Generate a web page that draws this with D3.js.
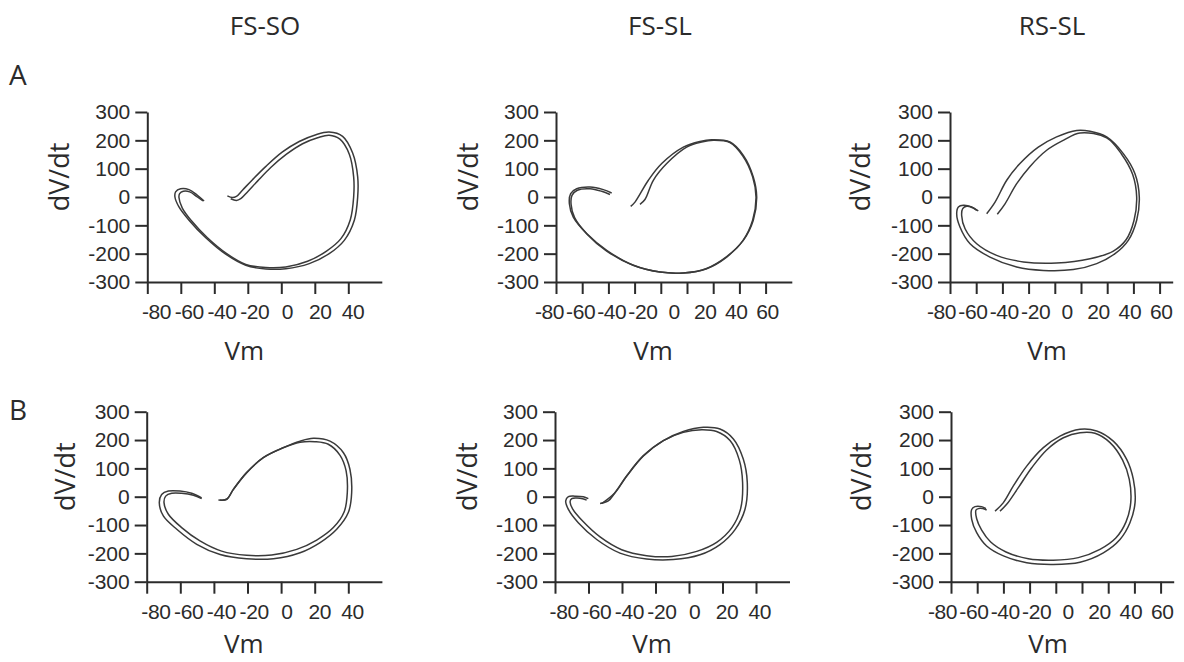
<!DOCTYPE html>
<html><head><meta charset="utf-8">
<script src="https://cdn.jsdelivr.net/npm/d3@7"></script>
<style>
html,body{margin:0;padding:0;background:#fff;}
svg{display:block;}
</style></head>
<body>
<svg id="chart" width="1184" height="662"></svg>
<script>
// ---------------- DATA ----------------
const columnTitles = ["FS-SO", "FS-SL", "RS-SL"];
const rowLetters = ["A", "B"];
const dvdtTicks = [-300, -200, -100, 0, 100, 200, 300];
const vmTicksShort = [-80, -60, -40, -20, 0, 20, 40];
const vmTicksLong = [-80, -60, -40, -20, 0, 20, 40, 60, 80];
const vmLabelsShort = [-80, -60, -40, -20, 0, 20, 40];
const vmLabelsLong = [-80, -60, -40, -20, 0, 20, 40, 60];

// Row A, FS-SO: [Vm, dV/dt]
const aFsSo1 = [[-32.2,4],[-29.2,-2],[-26.8,2],[-23.2,24],[-17.2,61],[-9.2,108],[0.7,159],[10.7,196],[20.7,220],[28.6,229],[36.6,214],[42.6,155],[45.6,71],[45.6,0],[43.6,-82],[37.6,-153],[28.6,-200],[16.7,-235],[2.7,-253],[-9.2,-254],[-21.2,-241],[-33.2,-202],[-45.1,-144],[-55.1,-82],[-61.1,-35],[-63.5,0],[-63.1,18],[-60.1,29],[-55.1,26],[-50.1,6],[-46.1,-14]];
const aFsSo2 = [[-30.2,-6],[-26.8,-12],[-24.2,-6],[-20.2,18],[-14.2,56],[-6.3,104],[3.1,151],[12.7,188],[21.7,209],[28.6,218],[35,204],[40.6,151],[43.2,71],[43.2,0],[41.2,-80],[35.6,-147],[27,-191],[15.7,-227],[2.7,-247],[-9.2,-249],[-21.2,-238],[-32.6,-200],[-44.1,-144],[-53.5,-85],[-59.1,-39],[-61.1,-2],[-60.7,12],[-58.5,20],[-54.7,18],[-50.1,0],[-46.7,-14]];
// Row A, FS-SL
const aFsSl1 = [[-23,-33],[-19.7,-18],[-9.5,59],[0.7,118],[17.2,176],[29.9,196],[38.8,202],[52.8,194],[63,147],[70.6,71],[73.2,0],[70.6,-82],[63,-153],[50.3,-212],[35,-253],[17.2,-268],[-0.6,-265],[-21,-241],[-41.3,-188],[-56.6,-129],[-66.8,-71],[-69.8,-24],[-68.8,12],[-64.2,29],[-54,35],[-43.9,26],[-37.5,14]];
const aFsSl2 = [[-15.9,-26],[-12.1,-9],[-5.7,59],[4.5,118],[19.7,176],[31.2,194],[40.1,200],[52.8,192],[62.5,145],[70.1,71],[72.7,0],[70.1,-82],[62.5,-155],[49.8,-212],[34.5,-253],[17.2,-268],[-0.6,-265],[-21,-241],[-41.3,-191],[-56.1,-132],[-65.8,-73],[-68.5,-26],[-67.8,6],[-63.7,24],[-54,29],[-45.1,20],[-38.8,9]];
// Row A, RS-SL
const aRsSl1 = [[-52,-59],[-45.6,-18],[-36.7,59],[-26.6,118],[-12.6,176],[1.4,212],[16.7,235],[26.9,232],[39.6,212],[52.3,153],[61.2,82],[64.5,0],[62.5,-82],[56.1,-153],[46,-200],[32,-235],[14.1,-256],[-8.8,-259],[-29.1,-247],[-49.5,-212],[-64.7,-165],[-72.4,-106],[-74.9,-59],[-73.6,-35],[-69.8,-29],[-63.5,-35],[-59.6,-47]];
const aRsSl2 = [[-43.9,-61],[-38,-24],[-29.1,47],[-18.9,108],[-6.2,165],[6.5,200],[19.2,226],[39.6,209],[51,151],[59.4,80],[62.5,0],[60.5,-82],[54.4,-151],[44.7,-191],[26.9,-218],[1.4,-233],[-24,-229],[-44.4,-206],[-59.6,-165],[-68.5,-112],[-71.1,-65],[-70.3,-41],[-67.3,-33],[-62.7,-38],[-58.4,-49]];
// Row B, FS-SO
const bFsSo1 = [[-37.3,-12],[-32.4,-9],[-28.4,26],[-20.5,85],[-10.6,138],[1.3,173],[11.3,196],[19.2,206],[29.1,196],[37.1,155],[41,96],[42,14],[40,-56],[33.1,-115],[23.2,-162],[11.3,-198],[-4.6,-219],[-20.5,-219],[-36.3,-204],[-50.2,-168],[-62.1,-115],[-70.1,-68],[-72.5,-21],[-71.1,8],[-67.1,20],[-60.2,20],[-53.2,12],[-47.3,-4]];
const bFsSo2 = [[-36.3,-12],[-32.4,-9],[-28.4,26],[-20.5,85],[-10.6,138],[1.3,173],[11.3,192],[20.2,194],[28.1,185],[35.1,146],[38.7,91],[39.4,14],[37.5,-54],[31.1,-109],[21.2,-153],[9.3,-186],[-5.6,-206],[-20.5,-207],[-35.4,-192],[-48.3,-156],[-59.2,-109],[-67.1,-62],[-69.7,-21],[-68.7,2],[-65.1,12],[-59.2,12],[-52.2,5],[-47.3,-7]];
// Row B, FS-SL
const bFsSl1 = [[-53.1,-24],[-48.2,-15],[-44.2,14],[-37.2,73],[-27.3,144],[-15.3,198],[-3.4,230],[8.6,245],[18.5,239],[26.5,204],[32.4,133],[34.8,50],[33.4,-45],[27.5,-116],[18.5,-169],[6.6,-205],[-9.4,-222],[-25.3,-220],[-41.2,-199],[-55.1,-151],[-66.1,-92],[-72,-45],[-73.6,-15],[-72,0],[-68.1,2],[-63.1,0],[-60.1,-7]];
const bFsSl2 = [[-52.1,-24],[-44.2,14],[-37.2,73],[-27.3,144],[-15.3,198],[-3.4,227],[7.6,236],[16.5,230],[24.5,198],[30,130],[32,50],[30.8,-43],[25.5,-110],[16.5,-161],[4.6,-193],[-10.3,-211],[-25.3,-208],[-40.2,-187],[-53.1,-142],[-63.5,-86],[-69.5,-43],[-71,-18],[-70,-7],[-67.1,-5],[-63.5,-7],[-61.1,-12]];
// Row B, RS-SL
const bRsSl1 = [[-46.4,-51],[-40,-21],[-32.4,38],[-22.2,108],[-9.5,173],[3.2,214],[18.5,238],[31.2,232],[43.9,196],[54.1,132],[59.2,61],[60.5,-21],[56.6,-92],[49,-151],[36.3,-198],[18.5,-231],[-1.9,-239],[-22.2,-233],[-40,-209],[-52.8,-174],[-60.4,-127],[-64.2,-80],[-64.2,-45],[-61.7,-35],[-56.6,-35],[-53.3,-42]];
const bRsSl2 = [[-42.6,-51],[-37.5,-27],[-28.6,32],[-18.4,102],[-7,165],[5.8,208],[18.5,226],[29.9,224],[41.4,191],[51,129],[56.1,61],[57.2,-21],[53.6,-89],[46,-145],[33.7,-186],[17.2,-215],[-1.9,-224],[-21,-219],[-38,-195],[-49.7,-160],[-56.6,-118],[-60.4,-78],[-60.9,-47],[-59.1,-42],[-55.8,-42],[-52.8,-47]];

const panelTraces = [
  [aFsSo1, aFsSo2], [aFsSl1, aFsSl2], [aRsSl1, aRsSl2],
  [bFsSo1, bFsSo2], [bFsSl1, bFsSl2], [bRsSl1, bRsSl2]
];

// ---------------- LAYOUT (positions / styles) ----------------
const panels = [
  {row:0, x0:147.3, x1:381.8, xMax:60, ticks:vmTicksShort, labels:vmLabelsShort, lab:[156,352.5],  yTop:112,   yBot:282,   dvx:-78},
  {row:0, x0:556,   x1:791.8, xMax:100, ticks:vmTicksLong, labels:vmLabelsLong,  lab:[549,767],    yTop:112,   yBot:282,   dvx:-78},
  {row:0, x0:950,   x1:1172.7,xMax:90, ticks:vmTicksLong,  labels:vmLabelsLong,  lab:[941,1160.8], yTop:112,   yBot:282,   dvx:-80},
  {row:1, x0:146.7, x1:381.9, xMax:60, ticks:vmTicksShort, labels:vmLabelsShort, lab:[155.4,352],  yTop:411.7, yBot:581.7, dvx:-72},
  {row:1, x0:555,   x1:789.5, xMax:60, ticks:vmTicksShort, labels:vmLabelsShort, lab:[563.7,759.2],yTop:411.7, yBot:581.7, dvx:-78},
  {row:1, x0:951,   x1:1173.7,xMax:90, ticks:vmTicksLong,  labels:vmLabelsLong,  lab:[942,1161.8], yTop:411.7, yBot:581.7, dvx:-80}
];
const titleX = [265, 660, 1052];
const vmLabelY = [360, 653];

const svg = d3.select("#chart");
const ink = "#2b2b2b";
const lblFont = "'Open Sans', 'Noto Sans', sans-serif";
const tickFont = "'Liberation Sans', Arial, sans-serif";
const fmt = d => String(d);   // plain hyphen-minus, as in the reference

// Column titles
svg.selectAll("text.title").data(columnTitles).join("text")
  .attr("class","title")
  .attr("x",(d,i)=>titleX[i]).attr("y",35)
  .attr("text-anchor","middle")
  .attr("font-family",lblFont).attr("font-size",26).attr("fill",ink)
  .text(d=>d);

// Row letters
svg.selectAll("text.rowl").data(rowLetters).join("text")
  .attr("class","rowl")
  .attr("x",9).attr("y",(d,i)=>i===0?85:420)
  .attr("font-family",lblFont).attr("font-size",28).attr("fill",ink)
  .text(d=>d);

panels.forEach((p,i)=>{
  const g = svg.append("g");
  const xs = d3.scaleLinear().domain([-80,p.xMax]).range([p.x0,p.x1]);
  const xl = d3.scaleLinear().domain([p.labels[0],p.labels[p.labels.length-1]]).range(p.lab);
  const ys = d3.scaleLinear().domain([-300,300]).range([p.yBot,p.yTop]);

  // y axis
  const ya = g.append("g").attr("transform",`translate(${p.x0},0)`)
    .call(d3.axisLeft(ys).tickValues(dvdtTicks).tickSize(12).tickSizeOuter(0).tickPadding(5).tickFormat(fmt));
  ya.selectAll("path,line").attr("stroke",ink).attr("stroke-width",2);
  ya.selectAll("text").attr("font-family",tickFont).attr("font-size",21).attr("fill",ink);

  // x axis (tick marks)
  const xa = g.append("g").attr("transform",`translate(0,${p.yBot})`)
    .call(d3.axisBottom(xs).tickValues(p.ticks).tickSize(12).tickSizeOuter(0).tickFormat(""));
  xa.selectAll("path,line").attr("stroke",ink).attr("stroke-width",2);

  // x labels
  const xla = g.append("g").attr("transform",`translate(0,${p.yBot})`)
    .call(d3.axisBottom(xl).tickValues(p.labels).tickSize(0).tickPadding(22).tickFormat(fmt));
  xla.select(".domain").remove();
  xla.selectAll("text").attr("font-family",tickFont).attr("font-size",21).attr("fill",ink).attr("letter-spacing","-0.4");

  // axis titles
  g.append("text").attr("x",p.x0+97).attr("y",vmLabelY[p.row])
    .attr("text-anchor","middle").attr("font-family",lblFont).attr("font-size",26).attr("fill",ink)
    .text("Vm");
  g.append("text")
    .attr("transform",`translate(${p.x0+p.dvx},${ys(0)-20}) rotate(-90)`)
    .attr("text-anchor","middle").attr("font-family",lblFont).attr("font-size",27).attr("fill",ink)
    .text("dV/dt");

  // traces
  const line = d3.line().x(d=>xs(d[0])).y(d=>ys(d[1])).curve(d3.curveCatmullRom.alpha(0.5));
  g.selectAll("path.trace").data(panelTraces[i]).join("path")
    .attr("class","trace")
    .attr("d",line).attr("fill","none")
    .attr("stroke","#3a3a3a").attr("stroke-width",1.5);
});
</script>
</body></html>
